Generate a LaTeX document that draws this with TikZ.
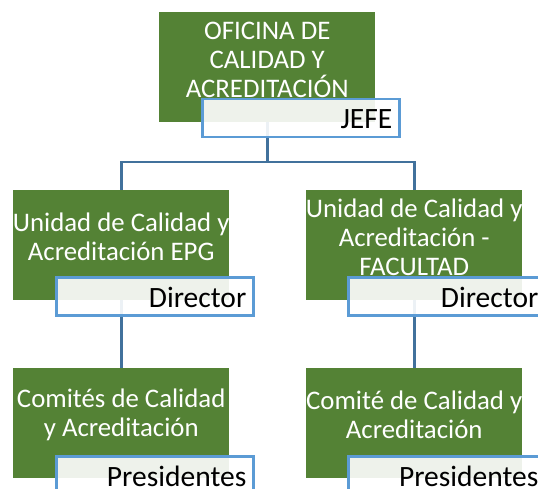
\documentclass[tikz,border=0pt]{standalone}
\usepackage{fontspec}
\setmainfont{Carlito}
\usetikzlibrary{backgrounds}
\definecolor{boxgreen}{HTML}{548235}
\definecolor{lineblue}{HTML}{41719C}
\definecolor{labelblue}{HTML}{5B9BD5}
\tikzset{
  greenbox/.style={fill=boxgreen, draw=none, anchor=north west, minimum width=216pt, minimum height=110pt, inner sep=0pt},
  greentext/.style={text=white, align=center, inner sep=0pt, font=\fontsize{26.8}{29}\selectfont},
  labelbox/.style={fill=white, fill opacity=0.9, draw=labelblue, draw opacity=1, line width=2.5pt, anchor=north west, minimum width=197pt, minimum height=38pt, inner sep=0pt},
  labeltext/.style={text=black, anchor=east, inner sep=0pt, font=\fontsize{29.5}{31}\selectfont},
  conn/.style={draw=lineblue, line width=2.8pt}
}
\begin{document}
\begin{tikzpicture}[x=1pt,y=-1pt]
\useasboundingbox (0,0) rectangle (538,489);
\clip (0,0) rectangle (538,489);
% top
\node[greenbox] (g1) at (159,12) {};
\node[greentext] (t1) at ([yshift=-48pt]g1.north) {OFICINA DE\\CALIDAD Y\\ACREDITACIÓN};
\node[labelbox] (l1) at (201,98) {};
\node[labeltext] (lt1) at ([xshift=-8pt,yshift=-1pt]l1.east) {JEFE};
% middle left
\node[greenbox] (g2) at (13,190) {};
\node[greentext] (t2) at ([yshift=-47pt]g2.north) {Unidad de Calidad y\\Acreditación EPG};
\node[labelbox] (l2) at (55,276) {};
\node[labeltext] (lt2) at ([xshift=-8pt,yshift=-1pt]l2.east) {Director};
% middle right
\node[greenbox] (g3) at (306,190) {};
\node[greentext] (t3) at ([yshift=-47pt]g3.north) {Unidad de Calidad y\\Acreditación -\\FACULTAD};
\node[labelbox] (l3) at (347,276) {};
\node[labeltext] (lt3) at ([xshift=-8pt,yshift=-1pt]l3.east) {Director};
% bottom left
\node[greenbox] (g4) at (13,368) {};
\node[greentext] (t4) at ([yshift=-47pt]g4.north) {Comités de Calidad\\y Acreditación};
\node[labelbox] (l4) at (55,455) {};
\node[labeltext] (lt4) at ([xshift=-8pt,yshift=-1pt]l4.east) {Presidentes};
% bottom right
\node[greenbox] (g5) at (306,368) {};
\node[greentext] (t5) at ([yshift=-47pt]g5.north) {Comité de Calidad y\\Acreditación};
\node[labelbox] (l5) at (347,455) {};
\node[labeltext] (lt5) at ([xshift=-8pt,yshift=-1pt]l5.east) {Presidentes};
% connectors
\begin{pgfonlayer}{background}
\coordinate (bus) at (0,162);
\draw[conn] (g1.center) -- (g1.center |- bus) -| (g2.north);
\draw[conn] (g1.center |- bus) -| (g3.north);
\draw[conn] (g2.center) -- (g4.north);
\draw[conn] (g3.center) -- (g5.north);
\end{pgfonlayer}
\end{tikzpicture}
\end{document}
